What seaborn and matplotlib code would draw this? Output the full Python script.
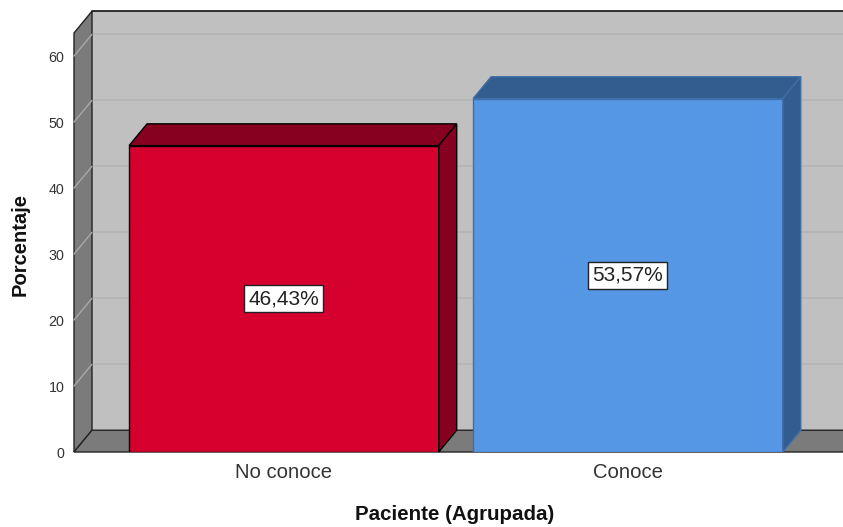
import matplotlib
matplotlib.use("Agg")
import matplotlib.pyplot as plt
import seaborn as sns
import pandas as pd
from matplotlib.patches import Polygon

categories = ["No conoce", "Conoce"]
percentages = [46.43, 53.57]
value_labels = ["46,43%", "53,57%"]
y_ticks = [0, 10, 20, 30, 40, 50, 60]
front_colors = ["#D6002F", "#5596E5"]
depth_colors = ["#87001F", "#335C8F"]
edge_colors = ["#000000", "#3F6FA8"]

sns.set_theme(style="white")
plt.rcParams['font.family'] = ['Liberation Sans', 'DejaVu Sans']

W, H = 843, 527
fig = plt.figure(figsize=(W / 100, H / 100), dpi=100)
ax = fig.add_axes([74 / W, (H - 452) / H, (843 - 74) / W, (452 - 33) / H])
ax.patch.set_visible(False)

df = pd.DataFrame({"cat": categories, "pct": percentages})
sns.barplot(data=df, x="cat", y="pct", hue="cat", palette=front_colors,
            width=0.9, ax=ax, legend=False, zorder=6, saturation=1)

xl, xr = -0.61, 1.625
ymax = 63.5
dx, dy = 0.0523, 3.3

ax.set_xlim(xl, xr)
ax.set_ylim(0, ymax)

wall = "#C0C0C0"
dark = "#7B7B7B"
# back wall
ax.add_patch(Polygon([(xl + dx, dy), (xr + dx, dy), (xr + dx, ymax + dy), (xl + dx, ymax + dy)],
                     closed=True, facecolor=wall, edgecolor="none", clip_on=False, zorder=1))
# side wall
ax.add_patch(Polygon([(xl, 0), (xl + dx, dy), (xl + dx, ymax + dy), (xl, ymax)],
                     closed=True, facecolor=dark, edgecolor="#222222", lw=1, clip_on=False, zorder=2))
# floor
ax.add_patch(Polygon([(xl, 0), (xl + dx, dy), (xr + dx, dy), (xr, 0)],
                     closed=True, facecolor=dark, edgecolor="#222222", lw=1, clip_on=False, zorder=2))
# gridlines
for v in y_ticks[1:]:
    ax.plot([xl + dx, xr + dx], [v + dy, v + dy], color="#B4B4B4", lw=1.2, zorder=1.5, clip_on=False)
    ax.plot([xl, xl + dx], [v, v + dy], color="#A8A8A8", lw=1, zorder=3, clip_on=False)
# top edge of back wall
ax.plot([xl + dx, xr + dx], [ymax + dy, ymax + dy], color="#111111", lw=1.2, zorder=3, clip_on=False)

bars = [p for p in ax.patches if p.get_zorder() == 6]
for i, p in enumerate(bars):
    x0, w, h = p.get_x(), p.get_width(), p.get_height()
    p.set_edgecolor(edge_colors[i])
    p.set_linewidth(1)
    ax.add_patch(Polygon([(x0, h), (x0 + dx, h + dy), (x0 + w + dx, h + dy), (x0 + w, h)],
                         closed=True, facecolor=depth_colors[i], edgecolor=edge_colors[i],
                         lw=1, clip_on=False, zorder=6))
    ax.add_patch(Polygon([(x0 + w, 0), (x0 + w + dx, dy), (x0 + w + dx, h + dy), (x0 + w, h)],
                         closed=True, facecolor=depth_colors[i], edgecolor=edge_colors[i],
                         lw=1, clip_on=False, zorder=6))
    ax.text(x0 + w / 2, h / 2, value_labels[i], ha="center", va="center", fontsize=15,
            color="#222222", zorder=8,
            bbox=dict(boxstyle="square,pad=0.2", facecolor="white", edgecolor="#222222", lw=1))

for s in ax.spines.values():
    s.set_visible(False)

ax.set_yticks(y_ticks)
ax.set_yticklabels([str(t) for t in y_ticks], fontsize=10.3, color="#333333")
ax.set_xticks(range(len(categories)))
ax.set_xticklabels(categories, fontsize=14.6, color="#333333")
ax.tick_params(axis="y", length=0, pad=7)
ax.tick_params(axis="x", length=0, pad=8)

ax.set_xlabel("Paciente (Agrupada)", fontsize=14.8, fontweight="bold", color="#111111")
ax.set_ylabel("Porcentaje", fontsize=14.5, fontweight="bold", color="#111111")
ax.xaxis.label.set_va("center")
ax.yaxis.label.set_va("center")
ax.xaxis.set_label_coords((455 - 74) / 769, (452 - 515) / 419)
ax.yaxis.set_label_coords((20 - 74) / 769, (452 - 244) / 419)

fig.savefig("out.png", dpi=100, facecolor="white")
